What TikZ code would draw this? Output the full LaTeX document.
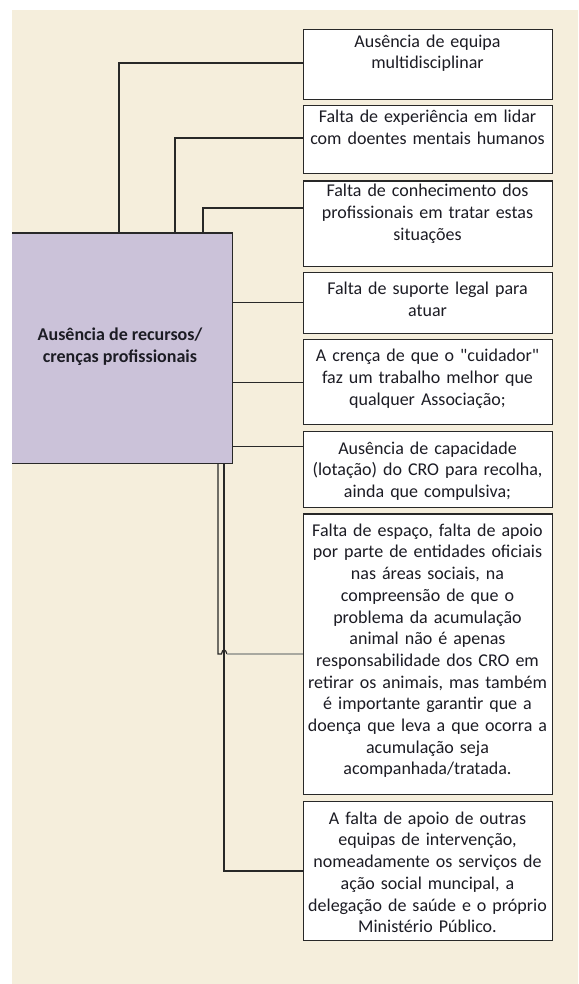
\documentclass[tikz,border=0pt]{standalone}
\usepackage{fontspec}
\setmainfont{Carlito}[Ligatures=TeXOff]
\definecolor{bgc}{RGB}{245,238,220}
\definecolor{purp}{RGB}{203,194,217}
\definecolor{edge}{RGB}{40,40,40}
\definecolor{txtc}{RGB}{28,28,36}
\definecolor{grayline}{RGB}{168,168,160}
\tikzset{
  box/.style={draw=edge, fill=white, line width=1.4pt, inner sep=0pt, minimum width=249pt, anchor=north west},
  boxtext/.style={text=txtc, text width=249pt, align=center, inner sep=0pt, anchor=north, yshift=15.19pt,
    font=\fontsize{18}{21.7}\selectfont, execute at begin node=\strut},
  conn/.style={draw=edge, line width=1.2pt},
}
\begin{document}
\begin{tikzpicture}[x=1pt, y=-1pt]
\useasboundingbox (0,0) rectangle (578,984);
\fill[bgc] (12,10) rectangle (578,984);

% central box
\node[fill=purp, inner sep=0pt, minimum width=220pt, minimum height=230pt, anchor=north west] (purple) at (12,233) {};
\draw[edge, line width=1.4pt] (purple.north west) -- (purple.north east) -- (purple.south east) -- (purple.south west);
\node[text=txtc, align=center, inner sep=0pt, anchor=north, yshift=15.19pt,
  font=\fontsize{18}{22.3}\selectfont\bfseries, execute at begin node=\strut] (ptext) at (120,342.7)
  {Ausência de recursos/\\crenças profissionais};

% boxes
\node[box, minimum height=70pt] (b1) at (303,29) {};
\node[box, minimum height=67.7pt] (b2) at (303,105) {};
\node[box, minimum height=85.7pt] (b3) at (303,180.3) {};
\node[box, minimum height=61pt] (b4) at (303,271.7) {};
\node[box, minimum height=84.7pt] (b5) at (303,339) {};
\node[box, minimum height=76.3pt] (b6) at (303,430.7) {};
\node[box, minimum height=280.7pt] (b7) at (303,513.3) {};
\node[box, minimum height=139pt] (b8) at (303,801) {};

\node[boxtext] (t1) at (427.5,47) {Ausência de equipa\\multidisciplinar};
\node[boxtext] (t2) at (427.5,122.3) {Falta de experiência em lidar\\com doentes mentais humanos};
\node[boxtext] (t3) at (427.5,196.7) {Falta de conhecimento dos\\profissionais em tratar estas\\situações};
\node[boxtext] (t4) at (427.5,294.3) {Falta de suporte legal para\\atuar};
\node[boxtext] (t5) at (427.5,361.7) {A crença de que o "cuidador"\\faz um trabalho melhor que\\qualquer Associação;};
\node[boxtext] (t6) at (427.5,454) {Ausência de capacidade\\(lotação) do CRO para recolha,\\ainda que compulsiva;};
\node[boxtext] (t7) at (427.5,536) {Falta de espaço, falta de apoio\\por parte de entidades oficiais\\nas áreas sociais, na\\compreensão de que o\\problema da acumulação\\animal não é apenas\\responsabilidade dos CRO em\\retirar os animais, mas também\\é importante garantir que a\\doença que leva a que ocorra a\\acumulação seja\\acompanhada/tratada.};
\node[boxtext] (t8) at (427.5,824) {A falta de apoio de outras\\equipas de intervenção,\\nomeadamente os serviços de\\ação social muncipal, a\\delegação de saúde e o próprio\\Ministério Público.};

% connectors
\coordinate (e1) at (119,63);
\coordinate (e2) at (175,138);
\coordinate (e3) at (203,208);
\coordinate (e4) at (303,302.5);
\coordinate (e5) at (303,382.3);
\coordinate (e6) at (303,446.7);
\coordinate (e7) at (218,654);
\coordinate (e8) at (224,871);
\coordinate (h1) at (221.5,654);
\coordinate (h2) at (227,654);

\draw[conn] (purple.north -| e1) |- (b1.west |- e1);
\draw[conn] (purple.north -| e2) |- (b2.west |- e2);
\draw[conn] (purple.north -| e3) |- (b3.west |- e3);
\draw[conn] (purple.east |- e4) -- (b4.west |- e4);
\draw[conn] (purple.east |- e5) -- (b5.west |- e5);
\draw[conn] (purple.east |- e6) -- (b6.west |- e6);
\draw[conn] (purple.south -| e8) |- (b8.west |- e8);
\draw[conn] (purple.south -| e7) -- (e7) -- (h1) .. controls (222.5,648.5) and (225.5,648.5) .. (h2);
\draw[grayline, line width=1.5pt] (h2) -- (b7.west |- e7);
\end{tikzpicture}
\end{document}
